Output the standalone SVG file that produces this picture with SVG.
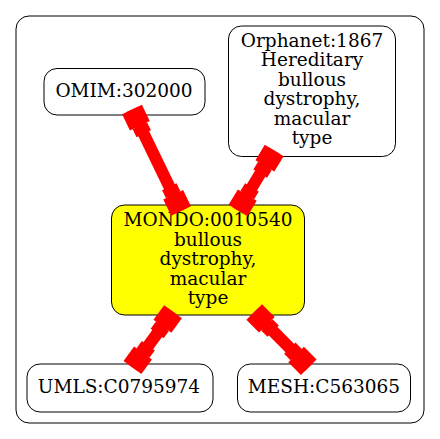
<svg xmlns="http://www.w3.org/2000/svg" xmlns:xlink="http://www.w3.org/1999/xlink" width="440" height="439" viewBox="0 0 440 439">
<style>
.cluster{fill:#ffffff;stroke:#000000;stroke-width:1}
.node rect{fill:#ffffff;stroke:#000000;stroke-width:1}
.node.main rect{fill:#ffff00}
.node text{font-family:"DejaVu Serif","Liberation Serif",serif;font-size:18.5px;fill:#000000;text-anchor:middle}
.edge line{stroke:#ff0000;stroke-width:12}
</style>
<defs>
<g id="boxhead" fill="#ff0000"><rect x="0" y="-11" width="18" height="22"/><rect x="18" y="-8" width="9" height="16"/></g>
</defs>
<rect width="440" height="439" fill="#ffffff"/>
<rect class="cluster" x="16" y="16" width="408" height="407" rx="13" ry="13"/>
<g id="n_omim" class="node"><rect x="44" y="68.5" width="161" height="46.5" rx="13" ry="13"/><text x="124" y="97">OMIM:302000</text></g>
<g id="n_orphanet" class="node"><rect x="228.5" y="26" width="167" height="130.5" rx="13" ry="13"/><text x="312" y="46.5">Orphanet:1867</text><text x="312" y="66">Hereditary</text><text x="312" y="85.5">bullous</text><text x="312" y="105">dystrophy,</text><text x="312" y="124.5">macular</text><text x="312" y="144">type</text></g>
<g id="n_mondo" class="node main"><rect x="111.5" y="205" width="193" height="110" rx="13" ry="13"/><text x="208" y="226">MONDO:0010540</text><text x="208" y="245.5">bullous</text><text x="208" y="265">dystrophy,</text><text x="208" y="284.5">macular</text><text x="208" y="304">type</text></g>
<g id="n_umls" class="node"><rect x="27" y="364" width="186" height="48" rx="13" ry="13"/><text x="119" y="393">UMLS:C0795974</text></g>
<g id="n_mesh" class="node"><rect x="237.5" y="364" width="173" height="48" rx="13" ry="13"/><text x="324" y="393">MESH:C563065</text></g>
<g id="edges" class="edge">
<g transform="translate(132,109.5) rotate(64.2)"><line x1="0" y1="0" x2="112.7" y2="0"/><use xlink:href="#boxhead"/><use xlink:href="#boxhead" transform="translate(112.7,0) scale(-1,1)"/></g>
<g transform="translate(274.2,150.5) rotate(121.1)"><line x1="0" y1="0" x2="70.1" y2="0"/><use xlink:href="#boxhead"/><use xlink:href="#boxhead" transform="translate(70.1,0) scale(-1,1)"/></g>
<g transform="translate(173,311.7) rotate(126)"><line x1="0" y1="0" x2="69" y2="0"/><use xlink:href="#boxhead"/><use xlink:href="#boxhead" transform="translate(69,0) scale(-1,1)"/></g>
<g transform="translate(254.2,312) rotate(45.4)"><line x1="0" y1="0" x2="77.7" y2="0"/><use xlink:href="#boxhead"/><use xlink:href="#boxhead" transform="translate(77.7,0) scale(-1,1)"/></g>
</g>
</svg>
